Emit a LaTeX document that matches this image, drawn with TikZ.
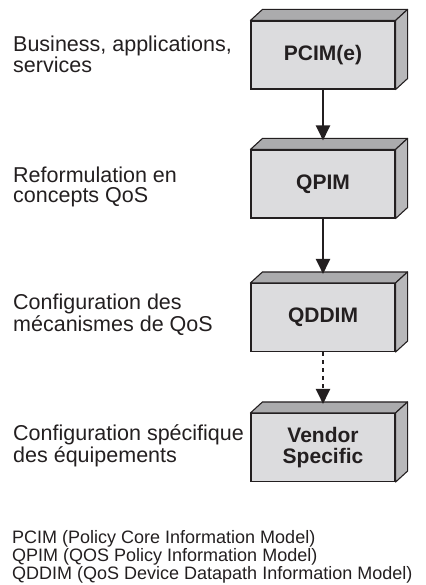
\documentclass[tikz,border=0pt]{standalone}
\usepackage{fontspec}
\setmainfont{Liberation Sans}
\usetikzlibrary{arrows.meta}
\definecolor{frontc}{HTML}{DCDCDE}
\definecolor{topc}{HTML}{ABABAD}
\definecolor{sidec}{HTML}{B8B8BA}
\definecolor{inkc}{HTML}{231F20}
\tikzset{
  frontbox/.style={draw=inkc, fill=frontc, line width=1.1pt, minimum width=144pt, minimum height=68pt,
    inner sep=0pt, align=center, text=inkc, font=\fontsize{21}{21}\selectfont\bfseries},
  topface/.style={draw=inkc, fill=topc, line width=1.1pt, line join=round},
  sideface/.style={draw=inkc, fill=sidec, line width=1.1pt, line join=round},
  leftlabel/.style={anchor=base west, inner sep=0pt, align=left, text=inkc, font=\fontsize{21.5}{20}\selectfont},
  legend/.style={anchor=base west, inner sep=0pt, align=left, text=inkc, font=\fontsize{18}{16.5}\selectfont},
  arr/.style={draw=inkc, line width=2.2pt, -{Triangle[length=15pt,width=14pt]}},
  darr/.style={arr, dash pattern=on 4pt off 4pt}
}
\newcommand{\boxfaces}[1]{%
  \path[topface] (#1.north west) -- ([shift={(12,-11)}]#1.north west) -- ([shift={(12,-11)}]#1.north east) -- (#1.north east) -- cycle;
  \path[sideface] (#1.north east) -- ([shift={(12,-11)}]#1.north east) -- ([shift={(12,-11)}]#1.south east) -- (#1.south east) -- cycle;
}
\begin{document}
\begin{tikzpicture}[x=1pt,y=-1pt]
\useasboundingbox (0,0) rectangle (425,585);
\node[frontbox] (b1) at (323,55) {PCIM(e)};
\node[frontbox] (b2) at (323,184) {QPIM};
\node[frontbox] (b3) at (323,317.5) {QDDIM};
\node[frontbox] (b4) at (323,447.5) {Vendor\\Specific};
\boxfaces{b1}
\boxfaces{b2}
\boxfaces{b3}
\boxfaces{b4}
\draw[arr] (b1.south) -- ([shift={(0,-9)}]b2.north);
\draw[arr] (b2.south) -- ([shift={(0,-9)}]b3.north);
\draw[darr] (b3.south) -- ([shift={(0,-9)}]b4.north);
\node[leftlabel] (l1) at (13,73) {Business, applications,\\services};
\node[leftlabel] (l2) at (13,202) {Reformulation en\\concepts QoS};
\node[leftlabel] (l3) at (13,331) {Configuration des\\mécanismes de QoS};
\node[leftlabel] (l4) at (13,462) {Configuration spécifique\\des équipements};
\node[legend] (lg) at (12,579) {PCIM (Policy Core Information Model)\\QPIM (QOS Policy Information Model)\\QDDIM (QoS Device Datapath Information Model)};
\end{tikzpicture}
\end{document}
